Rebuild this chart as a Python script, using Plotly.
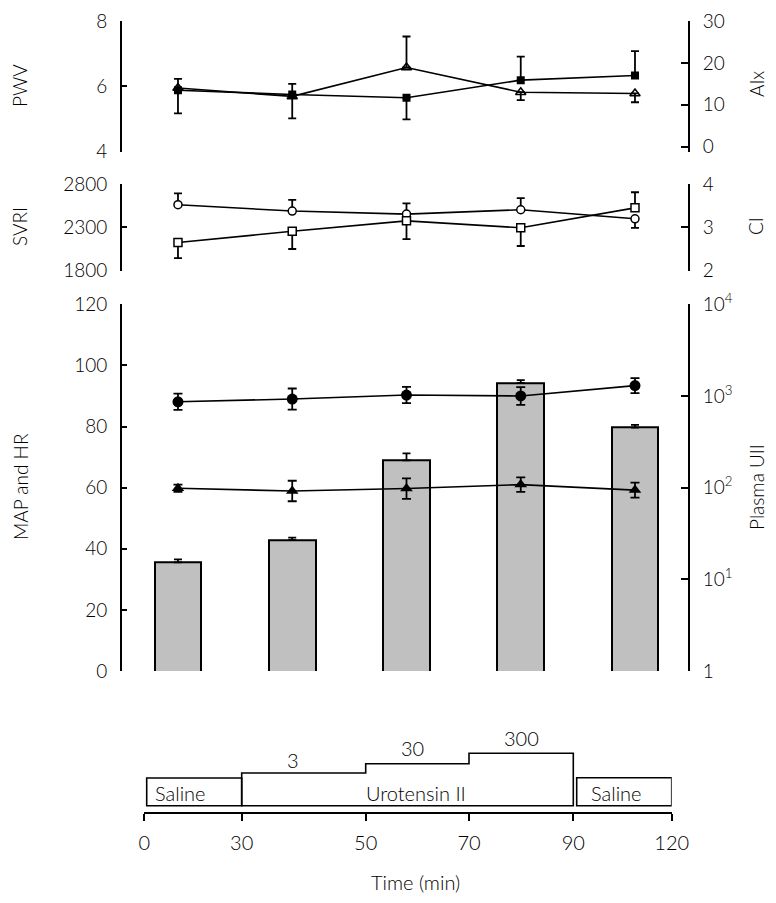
import plotly.graph_objects as go

# ---------------- data ----------------
periods = [1, 2, 3, 4, 5]  # measurement periods (saline, 3, 30, 300 pmol/min, saline recovery)

# top panel
pwv = [5.88, 5.75, 5.65, 6.19, 6.33]
pwv_err_up = [0, 0, 0, 0.72, 0.75]
pwv_err_dn = [0.71, 0.73, 0.66, 0, 0]
aix = [14.0, 12.0, 18.9, 13.0, 12.7]
aix_err_up = [2.2, 3.0, 7.4, 0, 0]
aix_err_dn = [0, 0, 0, 1.9, 2.1]

# middle panel
svri = [2561, 2488, 2453, 2503, 2399]
svri_err_up = [131, 130, 124, 135, 0]
svri_err_dn = [0, 0, 0, 0, 104]
ci = [2.65, 2.91, 3.15, 2.99, 3.45]
ci_err_up = [0, 0, 0, 0, 0.36]
ci_err_dn = [0.36, 0.41, 0.42, 0.42, 0]

# bottom panel
map_vals = [88.1, 89.0, 90.3, 90.0, 93.4]
map_err = [2.65, 3.45, 2.65, 2.9, 2.45]
hr_vals = [59.8, 58.9, 59.7, 61.0, 59.2]
hr_err = [1.2, 3.35, 3.35, 2.35, 2.45]
plasma_uii = [15.3, 26.7, 198.5, 1390, 452]
plasma_uii_err = [1.2, 1.8, 38, 100, 31]

# schematic
sched_tick_labels = ["0", "30", "50", "70", "90", "120"]
dose_labels = ["3", "30", "300"]
infusion_labels = ["Saline", "Urotensin II", "Saline"]

# ---------------- layout constants ----------------
PAGE_W, PAGE_H = 776, 903
OFF = 8  # default page body margin
W, H = PAGE_W - 2 * OFF, PAGE_H - 2 * OFF
FONT = "Lato, 'Open Sans', sans-serif"
BLACK = "#000000"


def px_x(p):
    return (p - OFF) / W


def px_y(p):
    return 1 - (p - OFF) / H


x_dom = [px_x(122), px_x(688)]
x_rng = [0.51, 5.464]

fig = go.Figure()

# ---- top panel ----
fig.add_trace(go.Scatter(
    x=periods, y=aix, xaxis="x", yaxis="y2", mode="lines+markers",
    line=dict(color=BLACK, width=1.6),
    marker=dict(symbol="triangle-up-open", size=9, color=BLACK, line=dict(width=1.5, color=BLACK)),
    error_y=dict(type="data", symmetric=False, array=aix_err_up, arrayminus=aix_err_dn,
                 color=BLACK, thickness=1.8, width=4),
    showlegend=False))
fig.add_trace(go.Scatter(
    x=periods, y=pwv, xaxis="x", yaxis="y", mode="lines+markers",
    line=dict(color=BLACK, width=1.6),
    marker=dict(symbol="square", size=8, color=BLACK),
    error_y=dict(type="data", symmetric=False, array=pwv_err_up, arrayminus=pwv_err_dn,
                 color=BLACK, thickness=1.8, width=4),
    showlegend=False))

# ---- middle panel ----
fig.add_trace(go.Scatter(
    x=periods, y=svri, xaxis="x2", yaxis="y3", mode="lines+markers",
    line=dict(color=BLACK, width=1.6),
    marker=dict(symbol="circle", size=8, color="white", line=dict(width=1.5, color=BLACK)),
    error_y=dict(type="data", symmetric=False, array=svri_err_up, arrayminus=svri_err_dn,
                 color=BLACK, thickness=1.8, width=4),
    showlegend=False))
fig.add_trace(go.Scatter(
    x=periods, y=ci, xaxis="x2", yaxis="y4", mode="lines+markers",
    line=dict(color=BLACK, width=1.6),
    marker=dict(symbol="square", size=8, color="white", line=dict(width=1.5, color=BLACK)),
    error_y=dict(type="data", symmetric=False, array=ci_err_up, arrayminus=ci_err_dn,
                 color=BLACK, thickness=1.8, width=4),
    showlegend=False))

# ---- bottom panel: bars on log (right) axis, lines on overlaying linear (left) axis ----
fig.add_trace(go.Bar(
    x=periods, y=plasma_uii, xaxis="x3", yaxis="y5", width=0.41,
    marker=dict(color="#c0c0c0", line=dict(color=BLACK, width=2)),
    error_y=dict(type="data", symmetric=False, array=plasma_uii_err,
                 arrayminus=[0] * len(plasma_uii), color=BLACK, thickness=1.8, width=4),
    showlegend=False))
fig.add_trace(go.Scatter(
    x=periods, y=map_vals, xaxis="x3", yaxis="y6", mode="lines+markers",
    line=dict(color=BLACK, width=1.6),
    marker=dict(symbol="circle", size=11, color=BLACK),
    error_y=dict(type="data", array=map_err, color=BLACK, thickness=1.8, width=4.5),
    showlegend=False))
fig.add_trace(go.Scatter(
    x=periods, y=hr_vals, xaxis="x3", yaxis="y6", mode="lines+markers",
    line=dict(color=BLACK, width=1.6),
    marker=dict(symbol="triangle-up", size=11, color=BLACK),
    error_y=dict(type="data", array=hr_err, color=BLACK, thickness=1.8, width=4.5),
    showlegend=False))

tickfont = dict(family=FONT, size=19, color=BLACK, weight=300)


def yax(dom, rng, side, tickvals=None, ticktext=None, overlaying=None,
        anchor=None, axtype="linear", ticklen=5):
    d = dict(domain=dom, range=rng, side=side, showline=True, linecolor=BLACK, linewidth=1.8,
             ticks="inside", ticklen=ticklen, tickwidth=1.5, tickcolor=BLACK,
             showgrid=False, zeroline=False, tickfont=tickfont, automargin=False,
             ticklabelstandoff=9, type=axtype, fixedrange=True)
    if tickvals is not None:
        d["tickmode"] = "array"
        d["tickvals"] = tickvals
        if ticktext is not None:
            d["ticktext"] = ticktext
    if overlaying:
        d["overlaying"] = overlaying
    if anchor:
        d["anchor"] = anchor
    return d


def hidden_x(anchor):
    return dict(domain=x_dom, range=x_rng, visible=False, anchor=anchor, fixedrange=True)


p1 = [px_y(151.7), px_y(21)]
p2 = [px_y(270.7), px_y(184)]
p3 = [px_y(671), px_y(304.3)]

sched_tick_x = [0, 97.4, 221.4, 324.7, 429, 527.4]

fig.update_layout(
    width=W, height=H, margin=dict(l=0, r=0, t=0, b=0),
    paper_bgcolor="white", plot_bgcolor="white", template="none",
    font=dict(family=FONT, size=19, color=BLACK),
    bargap=0,
    xaxis=hidden_x("y"),
    xaxis2=hidden_x("y3"),
    xaxis3=hidden_x("y5"),
    yaxis=yax(p1, [4, 8], "left", tickvals=[4, 6, 8], anchor="x"),
    yaxis2=yax(p1, [-1.2, 30], "right", tickvals=[0, 10, 20, 30], overlaying="y",
               anchor="x", ticklen=7),
    yaxis3=yax(p2, [1800, 2800], "left", tickvals=[1800, 2300, 2800], anchor="x2"),
    yaxis4=yax(p2, [2, 4], "right", tickvals=[2, 3, 4], overlaying="y3", anchor="x2", ticklen=7),
    yaxis5=yax(p3, [0, 4], "right", axtype="log", tickvals=[1, 10, 100, 1000, 10000],
               ticktext=["1", "10<sup>1</sup>", "10<sup>2</sup>", "10<sup>3</sup>", "10<sup>4</sup>"],
               anchor="x3", ticklen=7),
    yaxis6=yax(p3, [0, 120], "left", tickvals=[0, 20, 40, 60, 80, 100, 120],
               overlaying="y5", anchor="x3"),
    xaxis4=dict(domain=[px_x(144.3), px_x(671.7)], range=[0, 527.4], anchor="free",
                position=px_y(812.7), showline=True, linecolor=BLACK, linewidth=1.8,
                ticks="outside", ticklen=7, tickwidth=1.5, tickcolor=BLACK,
                tickmode="array", tickvals=sched_tick_x, ticktext=sched_tick_labels,
                tickfont=dict(family=FONT, size=20, color=BLACK, weight=300),
                ticklabelstandoff=5,
                showgrid=False, zeroline=False, automargin=False, fixedrange=True),
    # schematic y axis in page pixels below y=700, reversed
    yaxis7=dict(domain=[0, px_y(700)], range=[PAGE_H - OFF - 700, 0], visible=False,
                anchor="x4", fixedrange=True),
)

# ---- schematic of infusion protocol ----
LW = 1.6
base_y = 105.7
shapes = []
shapes.append(dict(type="rect", xref="x4", yref="y7", x0=2.4, x1=sched_tick_x[1],
                   y0=78, y1=base_y, line=dict(color=BLACK, width=LW)))
step_levels = [73, 63.7, 53.3]
path = f"M {sched_tick_x[1]},{base_y} L {sched_tick_x[1]},{step_levels[0]}"
for i, lvl in enumerate(step_levels):
    path += f" L {sched_tick_x[i + 1]},{lvl} L {sched_tick_x[i + 2]},{lvl}"
path += f" L {sched_tick_x[4]},{base_y} Z"
shapes.append(dict(type="path", xref="x4", yref="y7", path=path,
                   line=dict(color=BLACK, width=LW)))
shapes.append(dict(type="rect", xref="x4", yref="y7", x0=sched_tick_x[4] + 3.4,
                   x1=sched_tick_x[5], y0=77.7, y1=base_y, line=dict(color=BLACK, width=LW)))
fig.update_layout(shapes=shapes)

ann = []
sfont = dict(family=FONT, size=20, color=BLACK, weight=300)
inf_x = [35.7, 271.4, 472.3]
for t, xx in zip(infusion_labels, inf_x):
    ann.append(dict(text=t, x=xx, y=92.5, xref="x4", yref="y7", showarrow=False, font=sfont,
                    xanchor="center", yanchor="middle"))
dose_xy = [(149, 60), (267.7, 48), (376.7, 38.3)]
for t, (xx, yy) in zip(dose_labels, dose_xy):
    ann.append(dict(text=t, x=xx, y=yy, xref="x4", yref="y7", showarrow=False, font=sfont,
                    xanchor="center", yanchor="middle"))
ann.append(dict(text="Time (min)", x=px_x(415.7), y=px_y(882), xref="paper", yref="paper",
                showarrow=False, font=sfont, xanchor="center", yanchor="middle"))

titles = [("PWV", 20, 86), ("SVRI", 20, 227), ("MAP and HR", 20, 487),
          ("AIx", 756, 84), ("CI", 756, 226), ("Plasma UII", 756, 487)]
for t, xx, yy in titles:
    ann.append(dict(text=t, x=px_x(xx), y=px_y(yy), xref="paper", yref="paper",
                    showarrow=False, textangle=-90, xanchor="center", yanchor="middle",
                    font=dict(family=FONT, size=19, color=BLACK, weight=300)))
fig.update_layout(annotations=ann)

fig.write_html("out.html")
